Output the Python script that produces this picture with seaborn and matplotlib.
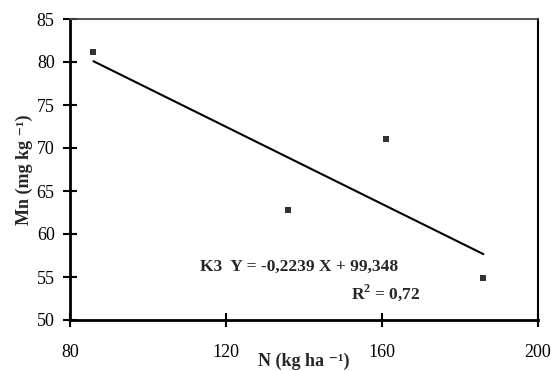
import matplotlib
matplotlib.use("Agg")
import matplotlib.pyplot as plt
import seaborn as sns
import pandas as pd

# Data
n_rates = [86, 136, 161, 186]
mn_values = [81.2, 62.8, 71.0, 54.9]
x_ticks = [80, 120, 160, 200]
y_ticks = [50, 55, 60, 65, 70, 75, 80, 85]
equation_text = "K3  Y = -0,2239 X + 99,348"
r2_text = "R$^{\\mathbf{2}}$ = 0,72"
x_label = "N (kg ha \u207b\u00b9)"
y_label = "Mn (mg kg \u207b\u00b9)"

df = pd.DataFrame({"N": n_rates, "Mn": mn_values})

sns.set_theme(style="white")
plt.rcParams["font.family"] = ["Liberation Serif", "DejaVu Serif"]
plt.rcParams["mathtext.fontset"] = "custom"
plt.rcParams["mathtext.rm"] = "Liberation Serif"
plt.rcParams["mathtext.bf"] = "Liberation Serif:bold"

fig = plt.figure(figsize=(5.53, 3.71), dpi=100)
ax = fig.add_axes([70 / 553, 1 - 320 / 371, 468 / 553, 301 / 371])

sns.regplot(data=df, x="N", y="Mn", ax=ax, ci=None, truncate=True, marker="s",
            scatter_kws=dict(s=22, color="black", linewidths=0),
            line_kws=dict(color="black", lw=1.5))

ax.set_xlim(80, 200)
ax.set_ylim(50, 85)
ax.set_xticks(x_ticks)
ax.set_yticks(y_ticks)
ax.tick_params(axis="both", direction="inout", length=10, width=1.5,
               colors="black", labelsize=13, bottom=True, left=True)
ax.tick_params(axis="x", pad=12)
ax.tick_params(axis="y", pad=6)

for s in ["left", "bottom"]:
    ax.spines[s].set_color("black")
    ax.spines[s].set_linewidth(2)
ax.spines["right"].set_color("black")
ax.spines["right"].set_linewidth(1.5)
ax.spines["top"].set_color("#444444")
ax.spines["top"].set_linewidth(1.3)

ax.set_xlabel(x_label, fontsize=13, fontweight="bold")
ax.set_ylabel(y_label, fontsize=13, fontweight="bold")
ax.xaxis.set_label_coords(0.5, -0.138)
ax.xaxis.label.set_va("center")
ax.yaxis.set_label_coords(-0.098, 0.5)
ax.yaxis.label.set_va("center")

ax.text(0.277, 0.176, equation_text, transform=ax.transAxes, fontsize=12.5,
        fontweight="bold", ha="left", va="center")
ax.text(0.748, 0.09, r2_text, transform=ax.transAxes, fontsize=12.5,
        fontweight="bold", ha="right", va="center")

fig.savefig("out.png", dpi=100)
